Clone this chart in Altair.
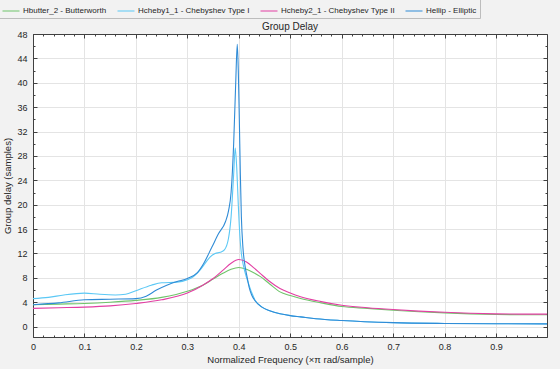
import altair as alt
import pandas as pd

# ---- data ----
names = ["Hbutter_2 - Butterworth", "Hcheby1_1 - Chebyshev Type I",
         "Hcheby2_1 - Chebyshev Type II", "Hellip - Elliptic"]
colors = ["#6fc46a", "#5bc8f5", "#e23fa3", "#2f8bd6"]

butter_f = [0, 0.05, 0.1, 0.15, 0.2, 0.25, 0.3, 0.33, 0.35, 0.37, 0.385, 0.4, 0.415, 0.43, 0.442,
            0.46, 0.48, 0.5, 0.52, 0.56, 0.6, 0.65, 0.7, 0.75, 0.8, 0.85, 0.9, 0.95, 0.999]
butter_v = [3.6, 3.7, 3.8, 4.0, 4.3, 4.8, 5.8, 6.8, 7.8, 8.8, 9.4, 9.7, 9.4, 8.8, 8.2,
            7.0, 5.7, 5.1, 4.6, 3.9, 3.3, 3.0, 2.7, 2.45, 2.25, 2.1, 2.0, 1.95, 1.95]

cheby1_f = [0, 0.03, 0.06, 0.1, 0.13, 0.16, 0.18, 0.2, 0.23, 0.25, 0.28, 0.3, 0.312, 0.325, 0.338,
            0.344, 0.354, 0.364, 0.372, 0.38, 0.385, 0.39, 0.393, 0.396, 0.399, 0.402, 0.405,
            0.409, 0.413, 0.418, 0.425, 0.432, 0.445, 0.46, 0.48, 0.5, 0.52, 0.55, 0.6, 0.7,
            0.8, 0.9, 0.999]
cheby1_v = [4.6, 4.8, 5.2, 5.5, 5.3, 5.2, 5.3, 5.9, 6.8, 7.2, 7.3, 7.7, 8.2, 9.3, 10.8,
            11.4, 12.0, 12.2, 12.6, 14.5, 18.0, 25.0, 29.3, 26.0, 20.0, 15.0, 12.0,
            10.0, 8.6, 7.3, 5.6, 4.3, 3.2, 2.6, 2.1, 1.8, 1.6, 1.3, 1.0, 0.65,
            0.52, 0.47, 0.45]

cheby2_f = [0, 0.05, 0.1, 0.15, 0.2, 0.25, 0.3, 0.33, 0.35, 0.37, 0.385, 0.4, 0.415, 0.43, 0.442,
            0.46, 0.48, 0.5, 0.52, 0.56, 0.6, 0.65, 0.7, 0.75, 0.8, 0.85, 0.9, 0.95, 0.999]
cheby2_v = [3.0, 3.1, 3.2, 3.4, 3.8, 4.4, 5.5, 6.8, 7.9, 9.3, 10.4, 11.0, 10.6, 9.6, 8.7,
            7.4, 6.25, 5.5, 4.9, 4.1, 3.5, 3.1, 2.8, 2.55, 2.35, 2.2, 2.1, 2.05, 2.05]

ellip_f = [0, 0.05, 0.1, 0.15, 0.2, 0.22, 0.24, 0.26, 0.28, 0.3, 0.319, 0.332, 0.348, 0.361,
           0.374, 0.38, 0.385, 0.39, 0.394, 0.397, 0.399, 0.401, 0.403, 0.405, 0.408, 0.412,
           0.416, 0.42, 0.425, 0.432, 0.445, 0.46, 0.48, 0.5, 0.52, 0.55, 0.6, 0.7, 0.8, 0.9, 0.999]
ellip_v = [3.6, 3.9, 4.4, 4.5, 4.6, 5.0, 6.0, 6.8, 7.4, 7.9, 8.8, 10.4, 13.1, 15.3,
           17.2, 19.0, 22.0, 30.0, 40.0, 46.3, 42.0, 34.0, 25.0, 18.0, 13.0, 10.0,
           8.2, 6.5, 5.2, 4.2, 3.2, 2.6, 2.1, 1.8, 1.6, 1.3, 1.0, 0.65, 0.52, 0.47, 0.45]

x_major = [0, 0.1, 0.2, 0.3, 0.4, 0.5, 0.6, 0.7, 0.8, 0.9]
x_all = [round(i * 0.02, 2) for i in range(50)]
y_major = list(range(0, 49, 4))
y_all = list(range(0, 49, 2))

rows = []
for n, fs, vs in zip(names, [butter_f, cheby1_f, cheby2_f, ellip_f],
                     [butter_v, cheby1_v, cheby2_v, ellip_v]):
    for f, v in zip(fs, vs):
        rows.append({"f": f, "v": v, "series": n})
df = pd.DataFrame(rows)

FONT = "Liberation Sans"
TXT = "#262626"
AX = "#404040"
W, H = 514, 303

xs = alt.Scale(domain=[0, 0.999], nice=False, zero=False)
ys = alt.Scale(domain=[-1.7, 48], nice=False, zero=False)

x_tick_size = {"condition": {"test": "abs(datum.value*10 - round(datum.value*10)) < 0.001", "value": 4}, "value": 2}
y_tick_size = {"condition": {"test": "datum.value % 4 === 0", "value": 4}, "value": 2}

main = alt.Chart(df).mark_line(strokeWidth=1.1, interpolate="monotone").encode(
    x=alt.X("f:Q", scale=xs, axis=alt.Axis(
        values=x_major, format="~g", title="Normalized Frequency (\u00d7\u03c0 rad/sample)",
        tickSize=0, labelPadding=5, labelFontSize=9, labelColor=TXT, labelFont=FONT,
        labelFlush=False, titleFont=FONT, titleFontSize=9.5, titleFontWeight="normal",
        titleColor=TXT, titlePadding=3, grid=True, gridColor="#e4e4e4",
        domainColor=AX, domainWidth=1)),
    y=alt.Y("v:Q", scale=ys, axis=alt.Axis(
        values=y_major, title="Group delay (samples)", tickSize=0, labelPadding=6,
        labelFontSize=9, labelColor=TXT, labelFont=FONT, labelFlush=False,
        titleFont=FONT, titleFontSize=9.5, titleFontWeight="normal", titleColor=TXT,
        titlePadding=4, grid=True, gridColor="#e4e4e4", domainColor=AX, domainWidth=1)),
    color=alt.Color("series:N", scale=alt.Scale(domain=names, range=colors),
                    legend=alt.Legend(title=None, orient="none", legendX=-34, legendY=-35,
                                      direction="horizontal", columns=4,
                                      symbolType="stroke", symbolSize=289,
                                      symbolStrokeWidth=1, labelFontSize=8,
                                      labelFont=FONT, labelColor=TXT, labelOffset=3,
                                      columnPadding=8, padding=3,
                                      strokeColor="#bdbdbd")),
)

ticks_a = alt.Chart(df).mark_line(opacity=0).encode(
    x=alt.X("f:Q", scale=xs, axis=alt.Axis(
        orient="top", offset=-H, values=x_all, labels=False, grid=False, title=None,
        tickSize=x_tick_size, tickColor=AX, domainColor=AX)),
    y=alt.Y("v:Q", scale=ys, axis=alt.Axis(
        orient="right", offset=-W, values=y_all, labels=False, grid=False, title=None,
        tickSize=y_tick_size, tickColor=AX, domainColor=AX)),
)

ticks_b = alt.Chart(df).mark_line(opacity=0).encode(
    x=alt.X("f:Q", scale=xs, axis=alt.Axis(
        orient="bottom", offset=-H, values=x_all, labels=False, grid=False, title=None,
        tickSize=x_tick_size, tickColor=AX, domainColor=AX)),
    y=alt.Y("v:Q", scale=ys, axis=alt.Axis(
        orient="left", offset=-W, values=y_all, labels=False, grid=False, title=None,
        tickSize=y_tick_size, tickColor=AX, domainColor=AX)),
)

chart = alt.layer(main, ticks_a, ticks_b).resolve_scale(
    x="independent", y="independent"
).properties(
    width=W, height=H,
    autosize=alt.AutoSizeParams(type="none"),
    padding={"left": 33, "top": 34, "right": 13, "bottom": 32},
    background="#f2f2f2",
    title=alt.TitleParams("Group Delay", font=FONT, fontSize=10, fontWeight="normal",
                          color=TXT, offset=4, dy=37, anchor="middle"),
).configure_view(fill="white", stroke=None)

chart.save("out.html", embed_options={"renderer": "svg", "actions": False})
